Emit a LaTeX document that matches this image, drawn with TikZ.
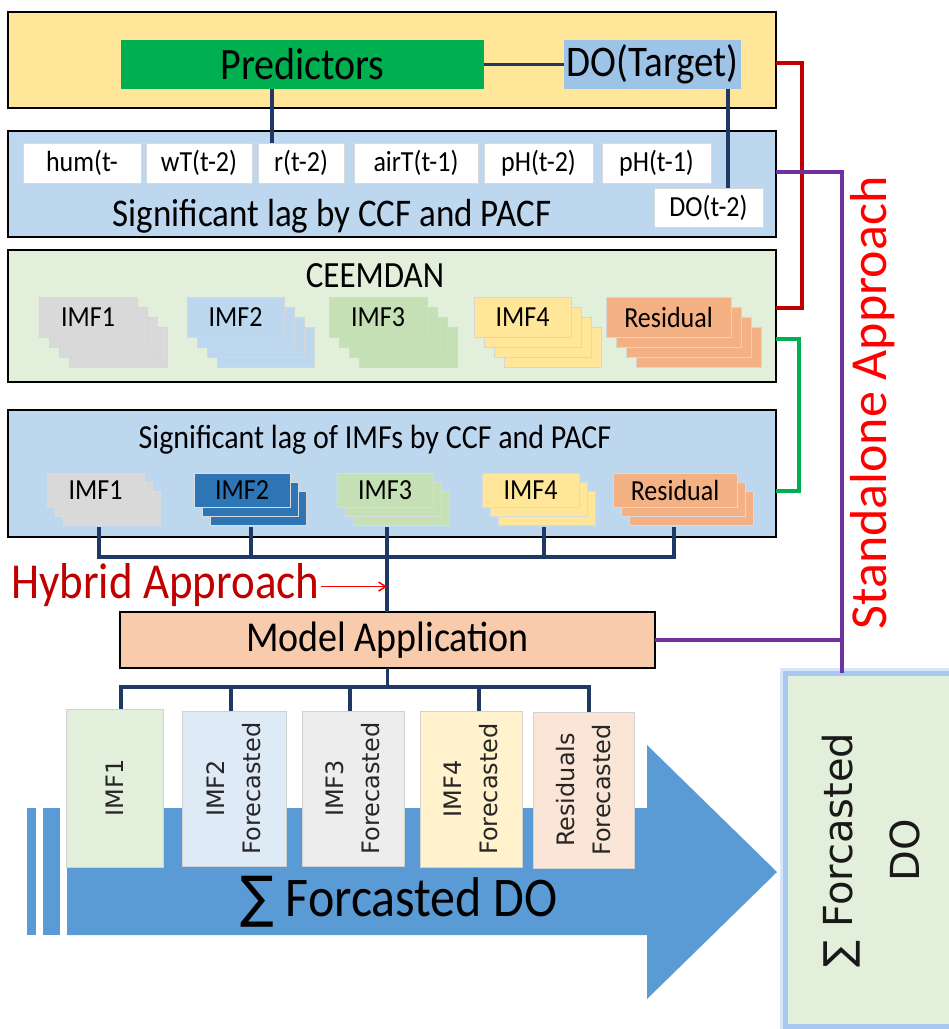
\documentclass[tikz,border=0pt]{standalone}
\usepackage{fontspec}
\setmainfont{Carlito}
\newfontfamily\dv{DejaVu Sans}
\usetikzlibrary{arrows.meta,calc}
\definecolor{cyellow}{HTML}{FFE699}
\definecolor{cgreen}{HTML}{00B050}
\definecolor{cdo}{HTML}{9DC3E6}
\definecolor{cblue}{HTML}{BDD7EE}
\definecolor{clgreen}{HTML}{E2EFDA}
\definecolor{cgrey}{HTML}{D9D9D9}
\definecolor{cimftwo}{HTML}{BDD7EE}
\definecolor{cdark}{HTML}{2E75B6}
\definecolor{cimfthree}{HTML}{C5E0B4}
\definecolor{cimffour}{HTML}{FFE699}
\definecolor{cres}{HTML}{F4B183}
\definecolor{cpeach}{HTML}{F8CBAD}
\definecolor{cfa}{HTML}{E2EFDA}
\definecolor{cfb}{HTML}{DEEBF7}
\definecolor{cfc}{HTML}{EDEDED}
\definecolor{cfd}{HTML}{FFF2CC}
\definecolor{cfe}{HTML}{FBE5D6}
\definecolor{carrow}{HTML}{5B9BD5}
\definecolor{cred}{HTML}{C00000}
\definecolor{cbright}{HTML}{FF0000}
\definecolor{cnavy}{HTML}{1F3864}
\definecolor{cpurple}{HTML}{7030A0}
\definecolor{cglow}{HTML}{A8C8F2}
\definecolor{cglowb}{HTML}{D8E6FA}
\newcommand{\fsz}[2]{\fontsize{#1pt}{#2pt}\selectfont}
\newcommand{\tall}[1]{\scalebox{1}[1.12]{#1}}
\newcommand{\bx}[7]{\pgfmathsetmacro\bw{#4-#2}\pgfmathsetmacro\bh{#5-#3}%
  \node[#6,minimum width=\bw pt,minimum height=\bh pt,anchor=north west,inner sep=0pt,outer sep=0pt] (#1) at (#2,#3) {#7};}
% CEEMDAN stack: name, x, width, colour, text
\newcommand{\cstack}[5]{%
  \foreach \k in {3,2,1}{\path[fill=#4,draw=black!16,line width=0.8pt] ({#2+10*\k},{297+10*\k}) rectangle ++(#3,40);}
  \node[fill=#4,draw=black!16,line width=0.8pt,minimum width=#3pt,minimum height=40pt,anchor=north west,inner sep=0pt,outer sep=0pt,font=\fsz{26}{30}] (#1) at (#2,297) {\tall{#5}};}
% lag stack: name, x, width, colour, text
\newcommand{\lstack}[5]{%
  \foreach \k in {2,1}{\path[fill=#4,draw=black!14,line width=0.8pt] ({#2+8*\k},{473+9*\k}) rectangle ++(#3,34);}
  \node[fill=#4,draw=black!14,line width=0.8pt,minimum width=#3pt,minimum height=34pt,anchor=north west,inner sep=0pt,outer sep=0pt,font=\fsz{26}{30}] (#1) at (#2,473) {\tall{#5}};}
\tikzset{
  mainbox/.style={draw=black,line width=2.5pt},
  lagcell/.style={fill=white,draw=black!15,line width=0.8pt,font=\fsz{26}{30}},
  fbox/.style={draw=black!18,line width=1pt},
  rot/.style={rotate=90,align=center,font=\dv\fsz{24}{36},text=black!85},
  conn/.style={draw=cnavy,line width=3.5pt},
  redc/.style={draw=cred,line width=3.5pt},
  grnc/.style={draw=cgreen,line width=3.5pt},
  purc/.style={draw=cpurple,line width=3.5pt},
}
\begin{document}
\begin{tikzpicture}[x=1pt,y=-1pt]
\useasboundingbox (0,0) rectangle (949,1029);
% ---------- top box ----------
\bx{top}{8}{12}{776}{108}{mainbox,fill=cyellow}{}
\bx{pred}{121}{40}{484}{89}{fill=cgreen,font=\fsz{40}{44}}{\tall{Predictors}}
\bx{dot}{564}{40}{741}{89}{fill=cdo,font=\fsz{39}{44}}{\tall{DO(Target)}}
\draw[conn] (pred.east) -- (dot.west);
% ---------- lag box ----------
\bx{lagbox}{8}{131}{776}{237}{mainbox,fill=cblue}{}
\bx{hum}{23}{143}{141}{183}{lagcell}{\tall{hum(t-}}
\bx{wt}{146}{143}{252}{183}{lagcell}{\tall{wT(t-2)}}
\bx{rt}{258}{143}{344}{183}{lagcell}{\tall{r(t-2)}}
\bx{airt}{354}{143}{478}{183}{lagcell}{\tall{airT(t-1)}}
\bx{pha}{484}{143}{593}{183}{lagcell}{\tall{pH(t-2)}}
\bx{phb}{602}{143}{711}{183}{lagcell}{\tall{pH(t-1)}}
\bx{dotwo}{654}{188}{763}{227}{lagcell}{\tall{DO(t-2)}}
\node[font=\fsz{35}{40}] (lagtitle) at (332,216) {\tall{Significant lag by CCF and PACF}};
\draw[conn] ([xshift=-30.5pt]pred.south) -- ([xshift=-30.5pt]pred.south |- rt.north);
\draw[conn] ([xshift=75.5pt]dot.south) -- ([xshift=75.5pt]dot.south |- dotwo.north);
% ---------- CEEMDAN ----------
\bx{ceem}{8}{250}{776}{382}{mainbox,fill=clgreen}{}
\node[font=\fsz{33}{36}] (ceemtitle) at (375,276) {\tall{CEEMDAN}};
\cstack{ca}{39}{98}{cgrey}{IMF1}
\cstack{cb}{187}{97}{cimftwo}{IMF2}
\cstack{cc}{329}{98}{cimfthree}{IMF3}
\cstack{cd}{474}{97}{cimffour}{IMF4}
\cstack{ce}{606}{125}{cres}{Residual}
% ---------- lag of IMFs ----------
\bx{imfbox}{8}{410}{776}{537}{mainbox,fill=cblue}{}
\node[font=\fsz{30}{36}] (imftitle) at (375,440) {\tall{Significant lag of IMFs by CCF and PACF}};
\lstack{la}{47}{97}{cgrey}{IMF1}
\lstack{lb}{194}{96}{cdark}{IMF2}
\lstack{lc}{337}{96}{cimfthree}{IMF3}
\lstack{ld}{482}{97}{cimffour}{IMF4}
\lstack{le}{613}{124}{cres}{Residual}
\coordinate (lab) at ($(la.south)+(3.5,20)$);
\coordinate (lbb) at ($(lb.south)+(9,20)$);
\coordinate (lcb) at ($(lc.south)+(2,20)$);
\coordinate (ldb) at ($(ld.south)+(13.5,20)$);
\coordinate (leb) at ($(le.south)+(-1,20)$);
\coordinate (busy) at (0,557);
\draw[conn] (lab) -- (lab |- busy) -- (leb |- busy) -- (leb);
\draw[conn] (lbb) -- (lbb |- busy);
\draw[conn] (ldb) -- (ldb |- busy);
% ---------- model application ----------
\bx{model}{120}{612}{655}{668}{mainbox,fill=cpeach,font=\fsz{38}{42}}{\tall{Model Application}}
\draw[conn] (lcb) -- (lcb |- model.north);
\node[anchor=base west,text=cred,font=\fsz{45}{50},inner sep=1pt] (hyb) at (10,598) {\tall{Hybrid Approach}};
\draw[draw=cbright,line width=1.5pt,-{Straight Barb[length=7pt,width=9pt]}] ([yshift=-2pt]hyb.east) -- ([yshift=-2pt]hyb.east -| lcb);
% ---------- big arrow ----------
\path[fill=carrow] (67,808) -- (647,808) -- (647,745) -- (777,872) -- (647,999) -- (647,935) -- (67,935) -- cycle;
\path[fill=carrow] (27,808) rectangle (36,935);
\path[fill=carrow] (43,808) rectangle (60,935);
\node[font=\fsz{50}{56}] (sumtxt) at (399,902) {\tall{{\dv ∑} Forcasted DO}};
% ---------- forecast boxes ----------
\bx{fa}{66}{709}{163}{867}{fbox,fill=cfa}{}
\bx{fb}{182}{711}{286}{866}{fbox,fill=cfb}{}
\bx{fc}{302}{711}{404}{866}{fbox,fill=cfc}{}
\bx{fd}{420}{711}{522}{867}{fbox,fill=cfd}{}
\bx{fe}{533}{712}{634}{868}{fbox,fill=cfe}{}
\node[rot] (ta) at (fa.center) {IMF1};
\node[rot] (tb) at (fb.center) {IMF2\\Forecasted};
\node[rot] (tc) at (fc.center) {IMF3\\Forecasted};
\node[rot] (td) at (fd.center) {IMF4\\Forecasted};
\node[rot] (te) at (fe.center) {Residuals\\Forecasted};
\coordinate (busb) at (0,687);
\draw[conn] (model.south) -- (model.south |- busb);
\draw[conn] ([xshift=6.5pt]fa.north) -- ([xshift=6.5pt]fa.north |- busb) -- ([xshift=5.5pt]fe.north |- busb) -- ([xshift=5.5pt]fe.north);
\draw[conn] ([xshift=-3pt]fb.north) -- ([xshift=-3pt]fb.north |- busb);
\draw[conn] ([xshift=-3pt]fc.north) -- ([xshift=-3pt]fc.north |- busb);
\draw[conn] ([xshift=8pt]fd.north) -- ([xshift=8pt]fd.north |- busb);
% ---------- right result box ----------
\bx{sumbox}{785}{673}{965}{1026}{fill=clgreen,draw=cglow,line width=5pt,preaction={draw=cglowb,line width=11pt}}{}
\node[rotate=90,align=center,font=\dv\fsz{40}{67},text=black!90] (sumright) at (871,850) {∑ Forcasted\\DO};
% ---------- side connectors ----------
\draw[redc] ([yshift=-3pt]top.east) -- ++(26,0) |- ([yshift=8pt]ceem.east);
\draw[grnc] ([yshift=-23pt]ceem.east) -- ++(23,0) |- ([yshift=-17.5pt]imfbox.east);
\coordinate (pv) at (842,0);
\draw[purc] ([yshift=12pt]lagbox.east) -| (pv |- sumbox.north);
\draw[purc] (model.east) -- (model.east -| pv);
\node[rotate=90,text=cbright,font=\fsz{52}{56}] (stand) at (873,403) {Standalone Approach};
\end{tikzpicture}
\end{document}
